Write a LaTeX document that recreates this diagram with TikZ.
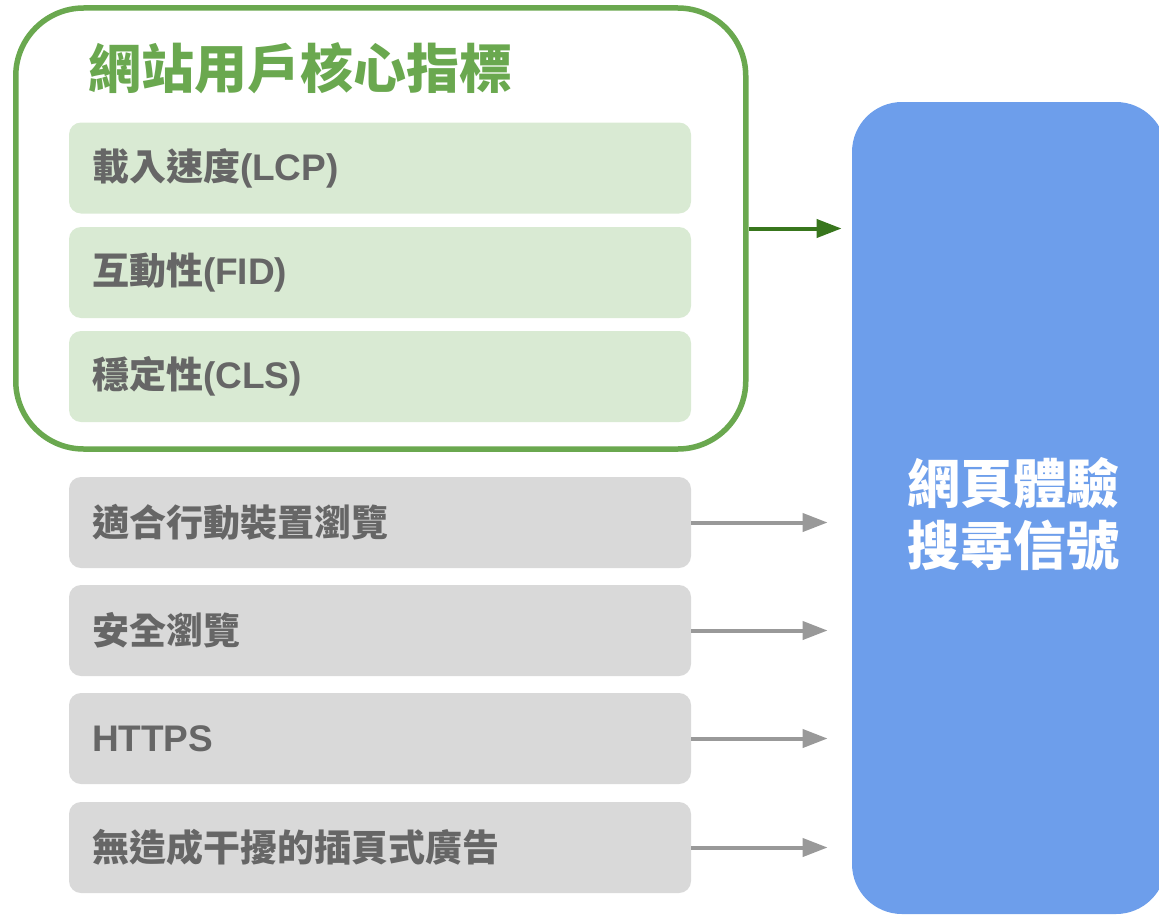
\documentclass[tikz,border=0pt]{standalone}
\usepackage{fontspec}
\setmainfont{Liberation Sans}
\newfontfamily\cjk{Noto Sans CJK TC}
\usetikzlibrary{arrows.meta}
\definecolor{coregreen}{HTML}{6AA84F}
\definecolor{arrowgreen}{HTML}{38761D}
\definecolor{itemgreen}{HTML}{D9EAD3}
\definecolor{itemgray}{HTML}{D9D9D9}
\definecolor{itemtext}{HTML}{666666}
\definecolor{arrowgray}{HTML}{999999}
\definecolor{signalblue}{HTML}{6D9EEB}
\tikzset{
  item/.style={rounded corners=6pt, minimum width=311pt, minimum height=45.5pt, text width=288pt, inner xsep=11.5pt, align=left, font=\cjk\fontsize{18.5}{22}\selectfont\bfseries, text=itemtext},
  feed/.style={-{Triangle[length=12.5pt,width=9pt]}, line width=2pt}
}
\newcommand{\latin}[1]{{\rmfamily\bfseries #1}}
\begin{document}
\begin{tikzpicture}[x=0.5pt,y=-0.5pt]
\useasboundingbox (0,0) rectangle (1159,915);
\node (signal) [fill=signalblue, rounded corners=25pt, minimum width=157pt, minimum height=406pt, inner sep=0pt] at (1009,508) {};
\node (signaltext) [text=white, align=center, font=\cjk\fontsize{26.5}{31}\selectfont\bfseries] at (1013,514) {網頁體驗\\搜尋信號};
\node (core) [draw=coregreen, line width=2.75pt, rounded corners=34pt, minimum width=365pt, minimum height=220.5pt, inner sep=0pt] at (380.75,228.5) {};
\node (coretitle) [anchor=west, text=coregreen, font=\cjk\fontsize{26.5}{30}\selectfont\bfseries, inner sep=0pt] at (88,68) {網站用戶核心指標};
\node (lcp) [item, fill=itemgreen] at (380,168) {載入速度\latin{(LCP)}};
\node (fid) [item, fill=itemgreen] at (380,272.5) {互動性\latin{(FID)}};
\node (cls) [item, fill=itemgreen] at (380,376.5) {穩定性\latin{(CLS)}};
\draw [feed, arrowgreen, shorten >=5pt] (core.east) -- (core.east -| signal.west);
\foreach \name/\y/\label in {mobile/522.5/適合行動裝置瀏覽,safe/630.5/安全瀏覽,https/738.5/\latin{HTTPS},ads/847.5/無造成干擾的插頁式廣告} {
  \node (\name) [item, fill=itemgray] at (380,\y) {\label};
  \draw [feed, arrowgray, shorten >=12pt] (\name.east) -- (\name.east -| signal.west);
}
\end{tikzpicture}
\end{document}
